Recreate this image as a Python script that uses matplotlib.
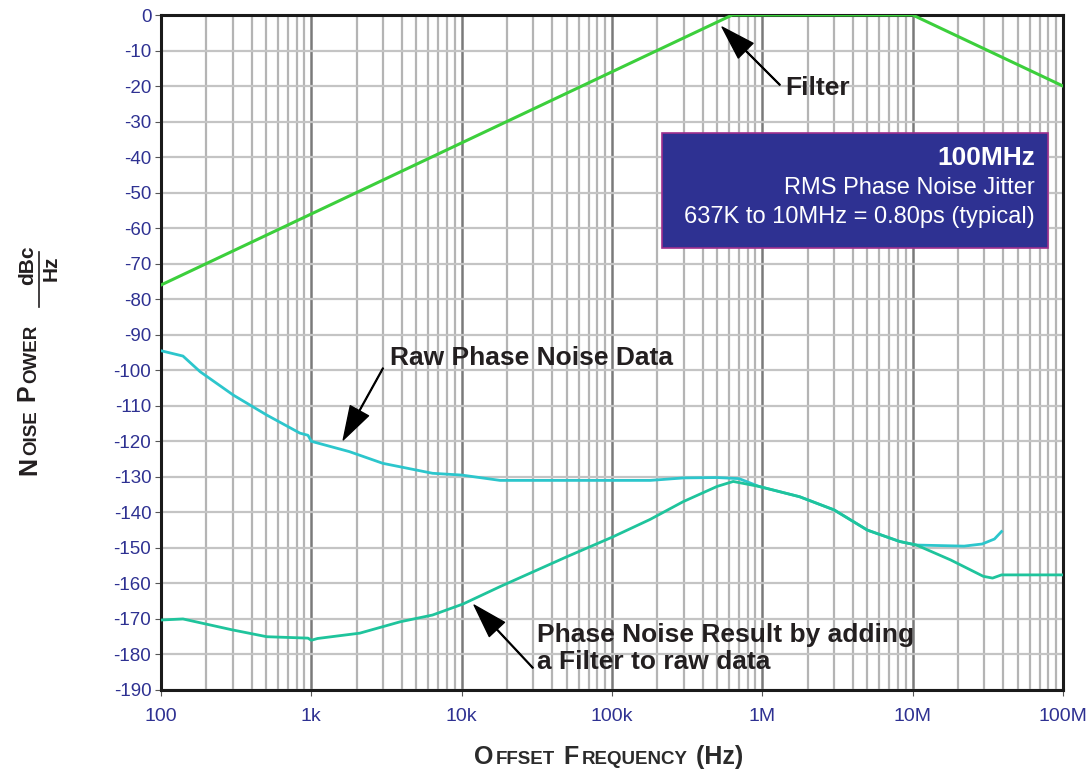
import numpy as np
import matplotlib.pyplot as plt
from matplotlib.patches import Rectangle
from matplotlib.lines import Line2D

plt.rcParams['font.family'] = ['Liberation Sans', 'DejaVu Sans']

# ---------------------------------- data ----------------------------------
filter_freq = [100, 630e3, 10e6, 100e6]
filter_db = [-76, 0, 0, -20]

raw_freq = [100, 140, 182, 303, 505, 840, 950, 1000, 1790, 2990, 6400, 10e3,
            18e3, 50e3, 100e3, 180e3, 300e3, 500e3, 700e3, 950e3, 1.77e6,
            3e6, 5e6, 8.2e6, 10.6e6, 22e6, 29e6, 35e6, 39e6]
raw_db = [-94.5, -96, -100.4, -107, -112.6, -117.7, -118.3, -120, -122.9,
          -126.2, -129, -129.5, -131, -131, -131, -131, -130.3, -130.2,
          -130.5, -132.7, -135.6, -139.3, -145, -148.2, -149.2, -149.5,
          -148.9, -147.5, -145.4]

result_freq = [100, 140, 300, 505, 950, 1000, 1100, 2100, 3900, 6400, 10.2e3,
               18e3, 50e3, 100e3, 179e3, 297e3, 500e3, 640e3, 950e3, 1.77e6,
               3e6, 5e6, 8.2e6, 10.6e6, 17.9e6, 29.5e6, 34e6, 39e6, 100e6]
result_db = [-170.3, -170, -173.1, -175, -175.4, -176, -175.5, -174, -170.8,
             -168.9, -165.8, -160.9, -152.5, -147, -142, -137, -132.7,
             -131.3, -132.7, -135.6, -139.3, -145, -148.2, -149.2, -153.4,
             -158, -158.5, -157.6, -157.6]

xtick_vals = [1e2, 1e3, 1e4, 1e5, 1e6, 1e7, 1e8]
xtick_labels = ['100', '1k', '10k', '100k', '1M', '10M', '100M']
ytick_vals = np.arange(-190, 1, 10)

W, H = 1090, 773
navy = '#2e3192'
dark = '#231f20'

fig = plt.figure(figsize=(W/100, H/100), dpi=100)
ax = fig.add_axes([161/W, 1-690/H, 902/W, 675/H])

ax.set_xscale('log')
ax.set_xlim(100, 1e8)
ax.set_ylim(-190, 0)

# grid
for dec in range(2, 8):
    for m in range(2, 10):
        ax.axvline(m*10**dec, color='#b4b4b4', lw=1.6, zorder=0)
for dec in range(3, 8):
    ax.axvline(10**dec, color='#7a7a7a', lw=1.8, zorder=0)
for yv in ytick_vals:
    ax.axhline(yv, color='#c4c4c4', lw=1.6, zorder=0)

ax.plot(filter_freq, filter_db, color='#3ccf3c', lw=2.2, zorder=3)
ax.plot(raw_freq, raw_db, color='#2cc6cc', lw=2.0, zorder=3)
ax.plot(result_freq, result_db, color='#1fc49c', lw=2.0, zorder=3)

ax.set_xticks(xtick_vals)
ax.set_xticklabels(xtick_labels)
ax.xaxis.set_minor_locator(plt.NullLocator())
ax.set_yticks(ytick_vals)
ax.set_yticklabels([str(v) for v in ytick_vals])
ax.tick_params(axis='x', colors='#555555', labelcolor=navy, labelsize=14, length=4, pad=9)
ax.tick_params(axis='y', colors='#555555', labelcolor=navy, labelsize=13.5, length=4, pad=3)
for s in ax.spines.values():
    s.set_linewidth(2.2)
    s.set_color('#1a1a1a')

# annotations
arrow = dict(facecolor='black', edgecolor='black', width=0.6, headwidth=15, headlength=24, shrink=0)
ax.annotate('', xy=(5.4e5, -3.4), xytext=(1.31e6, -19.7), arrowprops=arrow, zorder=5)
ax.text(1.42e6, -20.5, 'Filter', fontsize=19, fontweight='bold', color=dark, va='center', ha='left')

ax.annotate('', xy=(1.63e3, -119.6), xytext=(3.0e3, -99.4), arrowprops=arrow, zorder=5)
ax.text(3.34e3, -96.5, 'Raw Phase Noise Data', fontsize=19, fontweight='bold', color=dark, va='center', ha='left')

ax.annotate('', xy=(1.21e4, -166.1), xytext=(2.98e4, -183.8), arrowprops=arrow, zorder=5)
ax.text(3.17e4, -178.4, 'Phase Noise Result by adding\na Filter to raw data', fontsize=19,
        fontweight='bold', color=dark, va='center', ha='left', linespacing=1.15)

# info box
ax.add_patch(Rectangle((0.5554, 0.6548), 0.428, 0.1704, transform=ax.transAxes,
                       facecolor=navy, edgecolor='#a0308e', lw=1.2, zorder=6))
ax.text(0.969, 0.7881, '100MHz', transform=ax.transAxes, color='white', fontsize=19,
        fontweight='bold', ha='right', va='center', zorder=7)
ax.text(0.969, 0.7437, 'RMS Phase Noise Jitter', transform=ax.transAxes, color='white',
        fontsize=17, ha='right', va='center', zorder=7)
ax.text(0.969, 0.7007, '637K to 10MHz = 0.80ps (typical)', transform=ax.transAxes,
        color='white', fontsize=17, ha='right', va='center', zorder=7)

# small caps axis labels
renderer = fig.canvas.get_renderer()


def small_caps(parts, cx, cy, vertical, color):
    texts = []
    for s, size in parts:
        t = fig.text(0, 0, s, fontsize=size, fontweight='bold', color=color,
                     rotation=90 if vertical else 0, rotation_mode='anchor',
                     ha='left', va='baseline', transform=None)
        texts.append(t)
    lens = []
    for t in texts:
        bb = t.get_window_extent(renderer)
        lens.append(bb.height if vertical else bb.width)
    gap = 2
    total = sum(lens) + gap*(len(lens)-1)
    pos = -total/2
    for t, L in zip(texts, lens):
        if vertical:
            t.set_position((cx, H - cy + pos))
        else:
            t.set_position((cx + pos, H - cy))
        pos += L + gap


small_caps([('O', 18), ('FFSET', 13.5), (' F', 18), ('REQUENCY', 13.5), (' (Hz)', 18)],
           609, 764, False, '#2b2b2b')
small_caps([('N', 18), ('OISE', 13.5), (' P', 18), ('OWER', 13.5)], 36, 400, True, dark)

fig.text(37/W, 1-265/H, 'dBc', fontsize=15, fontweight='bold', rotation=90, color=dark,
         ha='right', va='center')
fig.text(42/W, 1-268/H, 'Hz', fontsize=15, fontweight='bold', rotation=90, color=dark,
         ha='left', va='center')
fig.add_artist(Line2D([38.5/W, 38.5/W], [1-252/H, 1-307/H], color=dark, lw=1.2))

fig.savefig('out.png', dpi=100)
